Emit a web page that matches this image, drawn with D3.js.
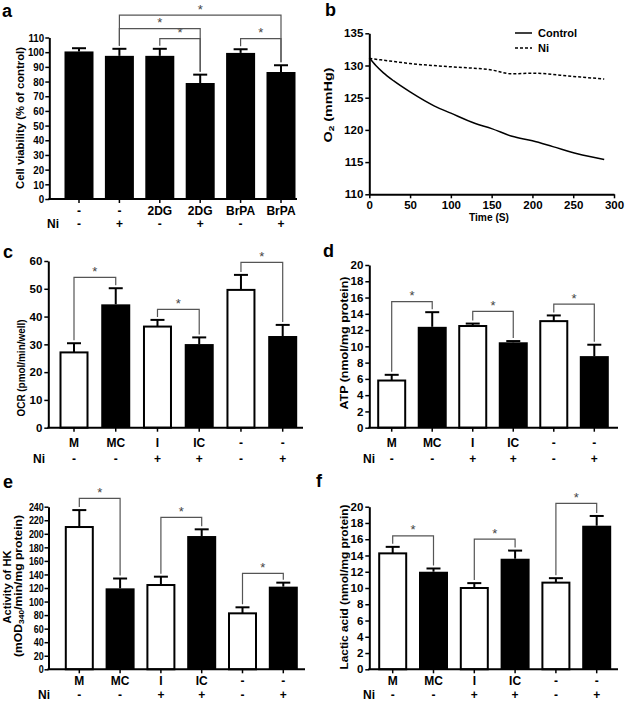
<!DOCTYPE html>
<html>
<head>
<meta charset="utf-8">
<script src="https://cdn.jsdelivr.net/npm/d3@7"></script>
<style>
  body { margin: 0; background: #fff; }
  svg { display: block; font-family: "Liberation Sans", Arial, sans-serif; font-weight: bold; }
</style>
</head>
<body>
<svg id="chart" width="625" height="702"></svg>
<script>
// ---------------- DATA ----------------
const catsA = ["-", "-", "2DG", "2DG", "BrPA", "BrPA"];
const niA = ["-", "+", "-", "+", "-", "+"];
const viability = [100.5, 97.5, 97.5, 79, 99.5, 86.5];
const viabilityErr = [2.2, 4.8, 4.8, 5.7, 2.5, 4.6];
const sigA = [[1, 5, 125.2], [1, 3, 116.1], [2, 3, 109.3], [4, 5, 109.3]];

const timeCtrl = [0, 8, 17, 30, 50, 80, 100, 130, 150, 175, 200, 225, 255, 288];
const o2Ctrl = [131.2, 130.0, 128.9, 127.6, 125.9, 123.7, 122.6, 121.0, 120.2, 119.0, 118.3, 117.4, 116.3, 115.4];
const timeNi = [0, 25, 50, 100, 150, 175, 200, 250, 288];
const o2Ni = [131.1, 130.7, 130.3, 129.8, 129.3, 128.7, 128.8, 128.3, 127.9];

const catsCF = ["M", "MC", "I", "IC", "-", "-"];
const niCF = ["-", "-", "+", "+", "-", "+"];
const fillCF = ["white", "black", "white", "black", "white", "black"];
const fillA = ["black", "black", "black", "black", "black", "black"];

const ocr = [27.1, 44.4, 36.4, 30.1, 49.6, 33.0];
const ocrErr = [3.3, 5.8, 2.4, 2.4, 5.4, 4.0];
const sigC = [[0, 1, 54.1], [2, 3, 42.6], [4, 5, 59.5]];

const atp = [5.8, 12.4, 12.5, 10.5, 13.1, 8.8];
const atpErr = [0.7, 1.8, 0.3, 0.15, 0.7, 1.4];
const sigD = [[0, 1, 15.5], [2, 3, 14.3], [4, 5, 15.2]];

const hk = [210, 119.5, 124.4, 196.7, 82.6, 122];
const hkErr = [25, 14.5, 12.3, 9.9, 8.9, 5.9];
const sigE = [[0, 1, 252.3], [2, 3, 224.3], [4, 5, 141.7]];

const lactic = [14.26, 12.0, 10.0, 13.6, 10.66, 17.66];
const lacticErr = [0.8, 0.4, 0.6, 1.0, 0.55, 1.2];
const sigF = [[0, 1, 16.4], [2, 3, 16.0], [4, 5, 20.4]];

// ---------------- DRAW ----------------
const svg = d3.select("#chart");
const INK = "#000";
const BR = "#555";

function letter(x, y, t) {
  svg.append("text").attr("x", x).attr("y", y).attr("font-size", 18).text(t);
}

// rotated axis title; segs: [{t, sub}]
function yTitle(x, yc, segs, len, size) {
  const t = svg.append("text").attr("transform", `translate(${x},${yc}) rotate(-90)`)
    .attr("text-anchor", "middle").attr("font-size", size || 11)
    .attr("textLength", len).attr("lengthAdjust", "spacingAndGlyphs");
  let sub = false;
  segs.forEach(seg => {
    const ts = t.append("tspan").text(seg.t);
    if (seg.sub) { ts.attr("font-size", (size || 11) * 0.7).attr("dy", 2); sub = true; }
    else if (sub) { ts.attr("dy", -2); sub = false; }
  });
  return t;
}

function styleAxis(a, sx) {
  a.select(".domain").attr("stroke-width", 2);
  a.selectAll(".tick line").attr("stroke-width", 1.5);
  const tt = a.selectAll(".tick text").attr("font-size", 11.5).attr("font-weight", "bold")
    .attr("font-family", "Liberation Sans, Arial, sans-serif").attr("fill", INK);
  if (sx) tt.attr("transform", `scale(${sx},1)`);
}

function barPanel(cfg) {
  const g = svg.append("g");
  const y = d3.scaleLinear().domain([0, cfg.max]).range([cfg.y0, cfg.yTop]);
  const x = d3.scalePoint().domain(d3.range(cfg.values.length)).range([cfg.c0, cfg.c1]);
  const bw = cfg.bw;

  // y axis
  const ya = g.append("g").attr("transform", `translate(${cfg.ax},0)`)
    .call(d3.axisLeft(y).tickValues(d3.range(0, cfg.max + cfg.step / 2, cfg.step)).tickSize(4).tickSizeOuter(0).tickPadding(2));
  styleAxis(ya, cfg.tickScale);

  // bars
  g.selectAll("rect.bar").data(cfg.values).join("rect")
    .attr("x", (d, i) => x(i) - bw / 2 + (cfg.fills[i] === "white" ? 1 : 0))
    .attr("width", (d, i) => bw - (cfg.fills[i] === "white" ? 2 : 0))
    .attr("y", d => y(d))
    .attr("height", d => cfg.y0 - y(d))
    .attr("fill", (d, i) => cfg.fills[i])
    .attr("stroke", (d, i) => cfg.fills[i] === "white" ? INK : "none")
    .attr("stroke-width", 2);

  // error bars (upper only)
  cfg.values.forEach((v, i) => {
    const top = y(v + cfg.errs[i]);
    g.append("line").attr("x1", x(i)).attr("x2", x(i)).attr("y1", y(v)).attr("y2", top)
      .attr("stroke", INK).attr("stroke-width", 2);
    g.append("line").attr("x1", x(i) - 7).attr("x2", x(i) + 7).attr("y1", top).attr("y2", top)
      .attr("stroke", INK).attr("stroke-width", 2);
  });

  // x axis
  g.append("line").attr("x1", cfg.ax - 1).attr("x2", cfg.axEnd).attr("y1", cfg.y0).attr("y2", cfg.y0)
    .attr("stroke", INK).attr("stroke-width", 2);
  cfg.values.forEach((v, i) => {
    g.append("line").attr("x1", x(i)).attr("x2", x(i)).attr("y1", cfg.y0).attr("y2", cfg.y0 + 4)
      .attr("stroke", INK).attr("stroke-width", 1.5);
  });
  g.selectAll("text.cat").data(cfg.cats).join("text")
    .attr("x", (d, i) => x(i)).attr("y", cfg.y0 + cfg.row1)
    .attr("text-anchor", "middle").attr("font-size", 12).text(d => d);
  g.selectAll("text.ni").data(cfg.ni).join("text")
    .attr("x", (d, i) => x(i)).attr("y", cfg.y0 + cfg.row2)
    .attr("text-anchor", "middle").attr("font-size", 12).text(d => d);
  g.append("text").attr("x", cfg.niX).attr("y", cfg.y0 + cfg.row2).attr("font-size", 12).text("Ni");

  // significance brackets
  cfg.sig.forEach(([a, b, lvl]) => {
    const yl = y(lvl);
    const ya1 = y(cfg.values[a] + cfg.errs[a]) - 3;
    const yb1 = y(cfg.values[b] + cfg.errs[b]) - 3;
    g.append("path")
      .attr("d", `M${x(a)},${ya1}V${yl}H${x(b)}V${yb1}`)
      .attr("fill", "none").attr("stroke", BR).attr("stroke-width", 1.2);
    g.append("text").attr("x", (x(a) + x(b)) / 2).attr("y", yl - 1.5)
      .attr("text-anchor", "middle").attr("font-size", 13).attr("font-weight", "normal")
      .attr("fill", "#444").text("*");
  });
  return g;
}

// Panel a
letter(2, 17, "a");
barPanel({ values: viability, errs: viabilityErr, fills: fillA, cats: catsA, ni: niA, sig: sigA,
  max: 110, step: 10, y0: 199, yTop: 37.5, ax: 49.3, axEnd: 297, c0: 79, c1: 281, bw: 29,
  row1: 16, row2: 29, niX: 47, tickScale: 0.85 });
yTitle(23.5, 118, [{ t: "Cell viability (% of control)" }], 142);

// Panel b
letter(325, 16, "b");
(function () {
  const x = d3.scaleLinear().domain([0, 300]).range([369.3, 614]);
  const y = d3.scaleLinear().domain([110, 135]).range([194.3, 33.3]);
  const g = svg.append("g");
  const xa = g.append("g").attr("transform", "translate(0,194.3)")
    .call(d3.axisBottom(x).tickValues(d3.range(0, 301, 50)).tickSize(4).tickSizeOuter(0).tickPadding(3));
  const ya = g.append("g").attr("transform", "translate(369.3,0)")
    .call(d3.axisLeft(y).tickValues(d3.range(110, 136, 5)).tickSize(4).tickSizeOuter(0).tickPadding(2));
  styleAxis(xa); styleAxis(ya);
  const line = d3.line().x(d => x(d[0])).y(d => y(d[1])).curve(d3.curveMonotoneX);
  g.append("path").datum(timeCtrl.map((t, i) => [t, o2Ctrl[i]])).attr("d", line)
    .attr("fill", "none").attr("stroke", INK).attr("stroke-width", 1.5);
  g.append("path").datum(timeNi.map((t, i) => [t, o2Ni[i]])).attr("d", line)
    .attr("fill", "none").attr("stroke", INK).attr("stroke-width", 1.5).attr("stroke-dasharray", "3,2");
  g.append("text").attr("x", 489).attr("y", 221).attr("text-anchor", "middle").attr("font-size", 11)
    .attr("textLength", 40).attr("lengthAdjust", "spacingAndGlyphs").text("Time (S)");
  // legend
  g.append("line").attr("x1", 515).attr("x2", 532).attr("y1", 33).attr("y2", 33).attr("stroke", INK).attr("stroke-width", 1.5);
  g.append("text").attr("x", 538).attr("y", 37).attr("font-size", 11).text("Control");
  g.append("line").attr("x1", 515).attr("x2", 532).attr("y1", 48).attr("y2", 48).attr("stroke", INK).attr("stroke-width", 1.5).attr("stroke-dasharray", "3,2");
  g.append("text").attr("x", 538).attr("y", 52).attr("font-size", 11).text("Ni");
})();
yTitle(332, 105, [{ t: "O" }, { t: "2", sub: true }, { t: " (mmHg)" }], 75);

// Panel c
letter(3, 258, "c");
barPanel({ values: ocr, errs: ocrErr, fills: fillCF, cats: catsCF, ni: niCF, sig: sigC,
  max: 60, step: 10, y0: 427.7, yTop: 261, ax: 48.3, axEnd: 303, c0: 74, c1: 282.7, bw: 29,
  row1: 19.5, row2: 35, niX: 33 });
yTitle(25, 368, [{ t: "OCR (pmol/min/well)" }], 97);

// Panel d
letter(323, 257, "d");
barPanel({ values: atp, errs: atpErr, fills: fillCF, cats: catsCF, ni: niCF, sig: sigD,
  max: 20, step: 2, y0: 427.7, yTop: 265, ax: 369.3, axEnd: 618, c0: 391.7, c1: 594.3, bw: 29,
  row1: 19.5, row2: 35, niX: 363 });
yTitle(347.5, 343, [{ t: "ATP (nmol/mg protein)" }], 133);

// Panel e
letter(3, 488, "e");
barPanel({ values: hk, errs: hkErr, fills: fillCF, cats: catsCF, ni: niCF, sig: sigE,
  max: 240, step: 20, y0: 669.3, yTop: 506.7, ax: 48.5, axEnd: 305, c0: 79.3, c1: 283.3, bw: 29,
  row1: 16, row2: 30, niX: 38, tickScale: 0.78 });
yTitle(11, 587, [{ t: "Activity of HK" }], 73);
yTitle(21.5, 586, [{ t: "(mOD" }, { t: "340", sub: true }, { t: "/min/mg protein)" }], 142);

// Panel f
letter(316, 487, "f");
barPanel({ values: lactic, errs: lacticErr, fills: fillCF, cats: catsCF, ni: niCF, sig: sigF,
  max: 20, step: 2, y0: 669.3, yTop: 506.7, ax: 369.3, axEnd: 618, c0: 392.7, c1: 596.7, bw: 29,
  row1: 16, row2: 30, niX: 363 });
yTitle(347.5, 587, [{ t: "Lactic acid (nmol/mg protein)" }], 165);
</script>
</body>
</html>
